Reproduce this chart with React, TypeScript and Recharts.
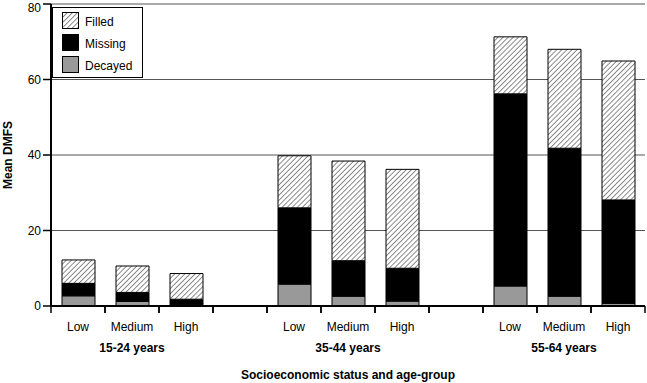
import { Bar, BarChart, CartesianGrid, Legend, XAxis, YAxis } from "recharts";

const FONT = "'Liberation Sans', Arial, Helvetica, sans-serif";
const GRAY = "#999999";

const categories = ["Low", "Medium", "High", "", "Low", "Medium", "High", "", "Low", "Medium", "High"];
const groups = ["", "15-24 years", "", "", "", "35-44 years", "", "", "", "55-64 years", ""];
const decayed = [2.7, 1.2, 0.3, null, 5.8, 2.6, 1.3, null, 5.3, 2.6, 0.7];
const missing = [3.3, 2.4, 1.5, null, 20.2, 9.4, 8.7, null, 50.9, 39.2, 27.4];
const filled = [6.2, 7.0, 6.8, null, 13.8, 26.4, 26.2, null, 15.1, 26.2, 36.8];
const yTicks = [0, 20, 40, 60, 80];

const data = categories.map((name, i) => ({
  name,
  decayed: decayed[i],
  missing: missing[i],
  filled: filled[i],
}));

const legendItems = [
  { label: "Filled", fill: "url(#hatchLegend)" },
  { label: "Missing", fill: "#000" },
  { label: "Decayed", fill: GRAY },
];

function HatchPattern({ id }: { id: string }) {
  return (
    <pattern id={id} patternUnits="userSpaceOnUse" width="3.6" height="3.6" patternTransform="rotate(45)">
      <rect width="3.6" height="3.6" fill="#fff" />
      <line x1="0" y1="0" x2="0" y2="3.6" stroke="#000" strokeWidth="0.9" />
    </pattern>
  );
}

function XTick(props: any) {
  const { x, y, payload, index } = props;
  const half = payload?.offset || 27;
  return (
    <g>
      <line x1={x - half} x2={x - half} y1={y} y2={y + 7} stroke="#000" strokeWidth={1.5} />
      <line x1={x + half} x2={x + half} y1={y} y2={y + 7} stroke="#000" strokeWidth={1.5} />
      <text x={x} y={y + 25} textAnchor="middle" fontSize={12} fontFamily={FONT} fill="#000">
        {payload.value}
      </text>
      {groups[index] ? (
        <text x={x} y={y + 46} textAnchor="middle" fontSize={12} fontWeight="bold" fontFamily={FONT} fill="#000">
          {groups[index]}
        </text>
      ) : null}
    </g>
  );
}

function LegendBox() {
  return (
    <svg width={91} height={71} style={{ display: "block" }}>
      <defs>
        <HatchPattern id="hatchLegend" />
      </defs>
      <rect x={0.5} y={0.5} width={90} height={70} fill="#fff" stroke="#000" strokeWidth={1} />
      {legendItems.map((item, i) => (
        <g key={item.label}>
          <rect x={10.5} y={5.5 + i * 22} width={16} height={16} fill={item.fill} stroke="#000" strokeWidth={1} />
          <text x={33} y={19 + i * 22} fontSize={12} fontFamily={FONT} fill="#000">
            {item.label}
          </text>
        </g>
      ))}
    </svg>
  );
}

export default function App() {
  return (
    <div style={{ position: "absolute", left: 0, top: 0, background: "#fff" }}>
      <BarChart
        width={647}
        height={383}
        data={data}
        margin={{ top: 4, right: 2, left: 0, bottom: 0 }}
        style={{ fontFamily: FONT }}
      >
        <defs>
          <HatchPattern id="hatch" />
        </defs>
        <CartesianGrid vertical={false} stroke="#555" strokeWidth={1} />
        <XAxis
          dataKey="name"
          interval={0}
          height={77}
          tickSize={0}
          tickMargin={0}
          tickLine={false}
          axisLine={{ stroke: "#000", strokeWidth: 2 }}
          tick={<XTick />}
          label={{
            value: "Socioeconomic status and age-group",
            position: "insideBottom",
            offset: 4,
            fontSize: 12,
            fontWeight: "bold",
            fill: "#000",
          }}
        />
        <YAxis
          domain={[0, 80]}
          ticks={yTicks}
          width={51}
          tickSize={8}
          tick={{ fontSize: 12, fill: "#000", fontFamily: FONT }}
          tickLine={{ stroke: "#000", strokeWidth: 1.5 }}
          axisLine={{ stroke: "#000", strokeWidth: 2 }}
          label={{
            value: "Mean DMFS",
            angle: -90,
            position: "insideLeft",
            offset: 8,
            fontSize: 12,
            fontWeight: "bold",
            fill: "#000",
            style: { textAnchor: "middle" },
          }}
        />
        <YAxis
          yAxisId="right"
          orientation="right"
          domain={[0, 80]}
          width={0}
          tick={false}
          tickLine={false}
          axisLine={{ stroke: "#000", strokeWidth: 1.5 }}
        />
        <Legend
          layout="horizontal"
          verticalAlign="middle"
          align="center"
          wrapperStyle={{ left: 52, top: 7, width: 91, height: 71 }}
          content={() => <LegendBox />}
        />
        <Bar dataKey="decayed" stackId="a" barSize={33} fill={GRAY} stroke="#000" strokeWidth={1} isAnimationActive={false} />
        <Bar dataKey="missing" stackId="a" barSize={33} fill="#000" stroke="#000" strokeWidth={1} isAnimationActive={false} />
        <Bar dataKey="filled" stackId="a" barSize={33} fill="url(#hatch)" stroke="#000" strokeWidth={1} isAnimationActive={false} />
      </BarChart>
    </div>
  );
}
